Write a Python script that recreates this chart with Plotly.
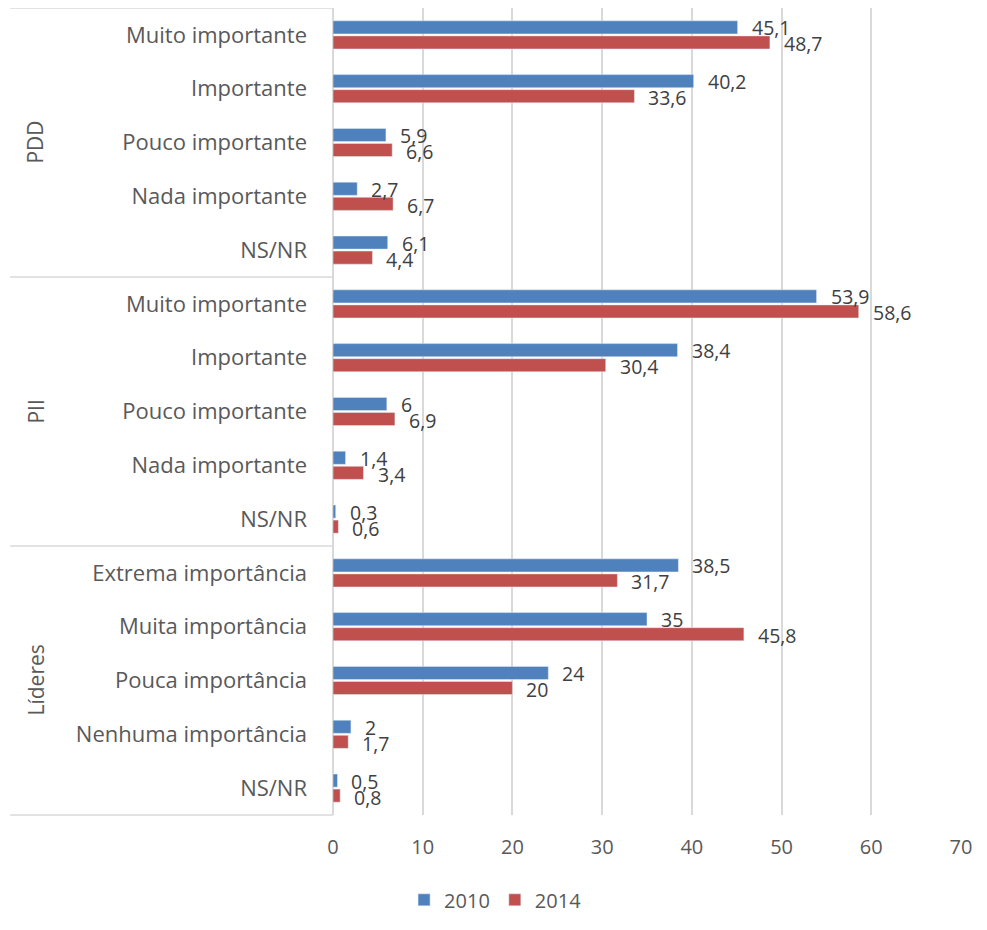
import plotly.graph_objects as go

# dados
grupos = ["PDD", "PII", "Líderes"]
cat_pdd = ["Muito importante", "Importante", "Pouco importante", "Nada importante", "NS/NR"]
cat_pii = ["Muito importante", "Importante", "Pouco importante", "Nada importante", "NS/NR"]
cat_lid = ["Extrema importância", "Muita importância", "Pouca importância",
           "Nenhuma importância", "NS/NR"]
v2010 = [45.1, 40.2, 5.9, 2.7, 6.1,
         53.9, 38.4, 6, 1.4, 0.3,
         38.5, 35, 24, 2, 0.5]
v2014 = [48.7, 33.6, 6.6, 6.7, 4.4,
         58.6, 30.4, 6.9, 3.4, 0.6,
         31.7, 45.8, 20, 1.7, 0.8]

cats = cat_pdd + cat_pii + cat_lid
grp = [grupos[0]] * 5 + [grupos[1]] * 5 + [grupos[2]] * 5
keys = [g + "|" + c for g, c in zip(grp, cats)]

def fmt(v):
    return ("%g" % v).replace(".", ",")

FONT = "Open Sans"
GRAY = "#595959"
LBL = "#404040"

fig = go.Figure()
fig.add_trace(go.Bar(y=keys, x=v2010, name="2010", orientation="h",
                     marker=dict(color="#4F81BD")))
fig.add_trace(go.Bar(y=keys, x=v2014, name="2014", orientation="h",
                     marker=dict(color="#C0504D")))

# rótulos de dados (à direita das barras)
for k, a, b in zip(keys, v2010, v2014):
    fig.add_annotation(x=a, y=k, text=fmt(a), showarrow=False,
                       xanchor="left", yanchor="middle", xshift=12, yshift=7,
                       font=dict(size=19.5, color=LBL, family=FONT))
    fig.add_annotation(x=b, y=k, text=fmt(b), showarrow=False,
                       xanchor="left", yanchor="middle", xshift=12, yshift=-9,
                       font=dict(size=19.5, color=LBL, family=FONT))

# rótulos de grupo e linhas separadoras
for i, g in enumerate(grupos):
    fig.add_annotation(
        text=g, textangle=-90, showarrow=False,
        xref="paper", yref="paper",
        x=-0.4745, y=1 - (i + 0.5) / 3,
        xanchor="center", yanchor="middle",
        font=dict(size=21, color=GRAY, family=FONT),
    )
for k in range(4):
    fig.add_shape(type="line", xref="paper", yref="paper",
                  x0=-0.514, x1=0, y0=k / 3, y1=k / 3,
                  line=dict(color="#D9D9D9", width=1.5))

fig.update_layout(
    width=987, height=930,
    margin=dict(l=325, r=34, t=0, b=123, autoexpand=False),
    plot_bgcolor="white", paper_bgcolor="white",
    barmode="group", bargap=0.44, bargroupgap=0.13,
    font=dict(family=FONT, color=GRAY, size=20),
    showlegend=True,
    legend=dict(orientation="h", xref="container", yref="container",
                x=0.494, xanchor="center", y=0.041, yanchor="middle",
                font=dict(size=20, color=GRAY), itemwidth=30),
    xaxis=dict(range=[0, 70], dtick=10, showgrid=True, gridcolor="#D9D9D9",
               gridwidth=1.5, zeroline=True, zerolinecolor="#D9D9D9",
               zerolinewidth=1.5, ticklabelstandoff=18, automargin=False,
               tickfont=dict(size=20, color=GRAY)),
    yaxis=dict(type="category", categoryorder="array", categoryarray=keys,
               autorange="reversed", tickmode="array", tickvals=keys,
               ticktext=cats, ticklabelstandoff=25, showgrid=False,
               automargin=False,
               tickfont=dict(size=22, color=GRAY)),
)

fig.write_html("out.html")
